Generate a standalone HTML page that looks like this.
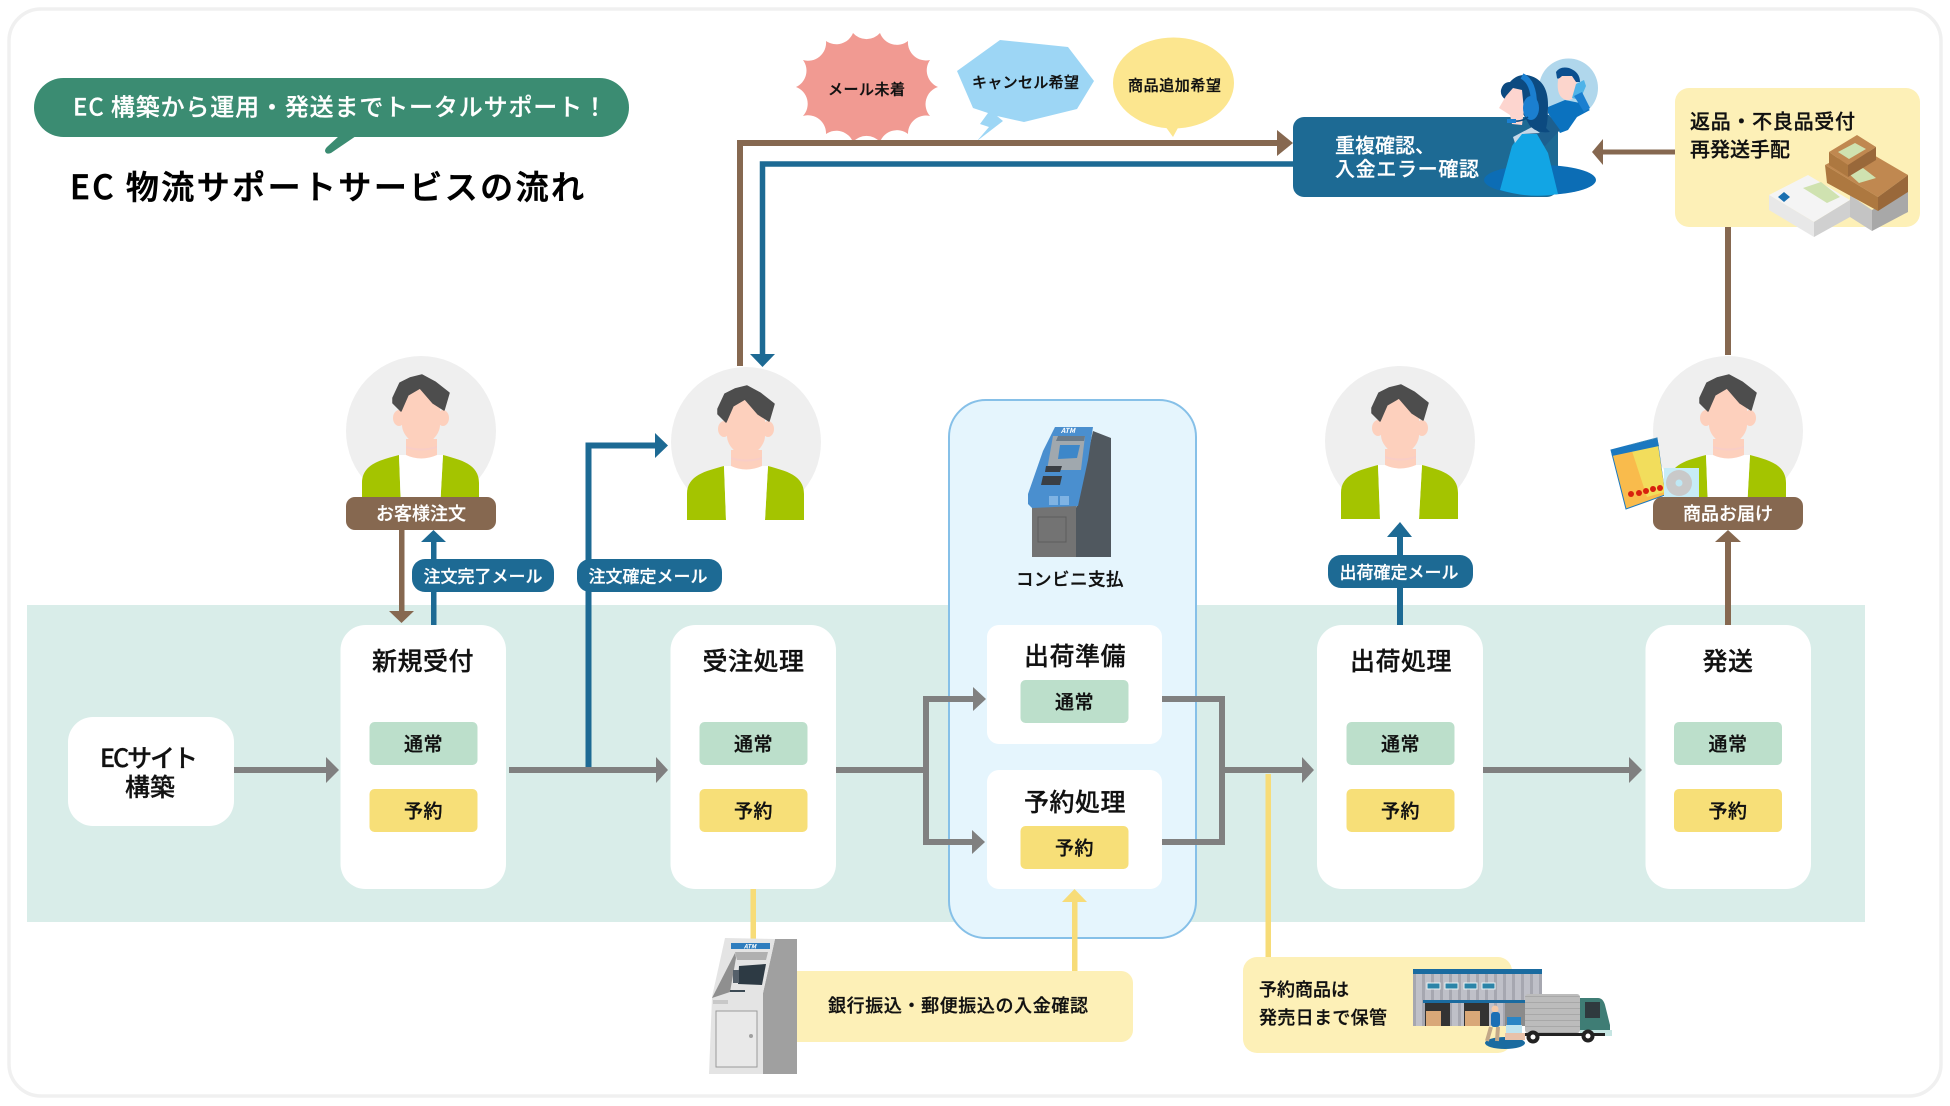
<!DOCTYPE html>
<html lang="ja"><head><meta charset="utf-8"><title>EC 物流サポートサービスの流れ</title>
<style>
html,body{margin:0;padding:0;background:#fff;width:1950px;height:1106px;overflow:hidden}
svg{display:block}
text{font-family:"Noto Sans CJK JP","Liberation Sans",sans-serif;fill:#111;stroke:#111;stroke-width:.3px;dominant-baseline:central;font-weight:500;transform:translateY(1px)}
.w{fill:#fff;stroke:#fff;stroke-width:.2px}
.m{text-anchor:middle}
.title{font-size:25px;text-anchor:middle;letter-spacing:.5px}
.tag{font-size:19px;text-anchor:middle;letter-spacing:.5px}
.pill{font-size:17px;fill:#fff;stroke:#fff;stroke-width:.2px;text-anchor:middle}
.lab{font-size:18px;fill:#fff;stroke:#fff;stroke-width:.2px;text-anchor:middle}
</style></head><body>
<svg width="1950" height="1106" viewBox="0 0 1950 1106" xmlns="http://www.w3.org/2000/svg">
<defs>
<pattern id="wall" width="9" height="10" patternUnits="userSpaceOnUse"><rect width="9" height="10" fill="#bfc0c8"/><rect width="3" height="10" fill="#a6a7b0"/></pattern>
<pattern id="tr" width="10" height="6" patternUnits="userSpaceOnUse"><rect width="10" height="6" fill="#bcbcbc"/><rect width="10" height="1" fill="#a8a8a8"/></pattern>
<g id="person">
<circle cx="0" cy="0" r="75" fill="#efefef"/>
<path d="M-22 24 C-40 29 -59 33 -59 52 L-59 78 L-20 78 Z" fill="#a4c400"/>
<path d="M22 24 C40 29 58 33 58 52 L58 78 L19 78 Z" fill="#a4c400"/>
<path d="M-22 24 L22 24 L19 78 L-20 78 Z" fill="#fff"/>
<ellipse cx="-22" cy="-13" rx="6" ry="8" fill="#fdd0bd"/>
<ellipse cx="22" cy="-13" rx="6" ry="8" fill="#fdd0bd"/>
<path d="M-15 8 L-15 24 Q0 31 16 24 L16 8 Z" fill="#fdd0bd"/>
<path d="M-15 15 Q0 20 16 15 L16 17 Q0 22 -15 17 Z" fill="#f9cdc6"/>
<path d="M-19 -25 C-19 -40 -10 -46 0 -46 C11 -46 19 -38 19 -25 L19 -6 C19 4 8 14 0 14 C-8 14 -19 4 -19 -6 Z" fill="#fdd0bd"/>
<path d="M-28 -33 L-21 -48 L-11 -53 L1 -56 L14 -49 L28 -38 L23 -21 L12 -28 L-1 -43 L-13 -36 L-20 -20 L-28 -28 Z" fill="#4d4d4d" stroke="#4d4d4d" stroke-width="1.5" stroke-linejoin="round"/>
</g>
</defs>

<rect x="9" y="9" width="1932" height="1087" rx="32" fill="#fff" stroke="#f0f0f0" stroke-width="3.5"/>

<!-- band -->
<rect x="27" y="605" width="1838" height="317" fill="#d9ede9"/>
<!-- container -->
<rect x="949" y="400" width="247" height="538" rx="37" fill="#e5f5fd" stroke="#86c0e8" stroke-width="2"/>

<!-- heading -->
<rect x="34" y="78" width="595" height="59" rx="29.5" fill="#3b8c72"/>
<path d="M339 136 L356 136 L331 153 Q326 155 325 151 Q325 149 327 147 Z" fill="#3b8c72"/>
<text class="w" x="73" y="104" font-size="24" textLength="534">EC 構築から運用・発送までトータルサポート！</text>
<text x="70" y="184" font-size="33" textLength="514" style="fill:#000;stroke:#000;stroke-width:.7px">EC 物流サポートサービスの流れ</text>

<!-- speech shapes -->
<path d="M853 33 A18 18 0 0 0 880 33 A18 18 0 0 0 908 41 A18 18 0 0 0 930 60 A18 18 0 0 0 938 87 A18 18 0 0 0 930 116 A18 18 0 0 0 908 134 A18 18 0 0 0 880 142 A18 18 0 0 0 853 142 A18 18 0 0 0 826 134 A18 18 0 0 0 803 116 A18 18 0 0 0 796 87 A18 18 0 0 0 803 60 A18 18 0 0 0 826 41 A18 18 0 0 0 853 33 Z" fill="#f19a92"/>
<text x="828" y="88" font-size="15" textLength="77">メール未着</text>
<polygon points="1000,40 1068,47 1094,81 1077,109 1024,122 997,116 1003,121 977,141 989,127 980,124 988,113 973,108 957,71" fill="#9dd6f5"/>
<text x="972" y="81" font-size="15" textLength="107">キャンセル希望</text>
<ellipse cx="1173.5" cy="83" rx="60.5" ry="45.5" fill="#fce68f"/>
<polygon points="1165,126 1179,126 1173,137" fill="#fce68f"/>
<text x="1128" y="84" font-size="15" textLength="93">商品追加希望</text>

<!-- top connectors -->
<path d="M740 366 L740 143 L1280 143" fill="none" stroke="#866850" stroke-width="6"/>
<polygon points="1277,130 1293,143 1277,156" fill="#866850"/>
<path d="M1300 164 L762.500 164 L762.500 356" fill="none" stroke="#1d6a94" stroke-width="5.500"/>
<polygon points="750,354 775,354 762.500,367" fill="#1d6a94"/>

<!-- blue box & operator -->
<rect x="1293" y="117" width="265" height="80" rx="11" fill="#1d6a94"/>
<text class="w" x="1335" y="143" font-size="20">重複確認、</text>
<text class="w" x="1335" y="166.500" font-size="20" textLength="144">入金エラー確認</text>
<ellipse cx="1540" cy="180" rx="56" ry="15" fill="#0c6db5"/>
<circle cx="1568.500" cy="88" r="29.500" fill="#b0d7ec"/>
<path d="M1548 107 L1565 100 L1580 103 L1590 110 L1577 117 L1568 130 L1560 133 L1548 113 Z" fill="#0b72bf"/>
<path d="M1558 80 Q1556 97 1566 100 Q1576 101 1577 88 L1576 74 L1560 72 Z" fill="#fcd5cc"/>
<path d="M1556 72 Q1560 66 1569 68 Q1580 72 1580 82 L1576 82 L1572 76 L1562 76 Q1558 80 1557 78 Z" fill="#0b4f8f"/>
<path d="M1576 84 L1584 80 L1586 86 L1580 100 L1572 98 Z" fill="#4fb3e8"/>
<path d="M1582 92 L1590 108 L1584 112 L1574 96 Z" fill="#1b7fd0"/>
<path d="M1530 112 L1549 115 L1560 130 L1545 146 L1530 135 Z" fill="#1d5f8e"/>
<path d="M1500 190 L1512 146 L1520 134 L1537 134 L1548 153 L1558 194 Q1530 199 1500 190 Z" fill="#12a5e4"/>
<path d="M1513 137 L1532 127 L1540 133 L1522 134 L1515 143 Z" fill="#c5d8e8"/>
<path d="M1501 90 Q1503 82 1510 82 Q1517 74 1527 75 Q1548 79 1548 105 Q1548 122 1546 128 L1550 132 Q1538 134 1530 126 L1515 100 L1506 100 Q1500 96 1501 90 Z" fill="#0c4a80"/>
<path d="M1499 108 L1506 96 L1513 88 L1522 90 L1524 110 L1522 125 L1512 124 L1510 115 Z" fill="#fdd5cf"/>
<path d="M1522 76 Q1534 82 1534 105" fill="none" stroke="#1b7fd0" stroke-width="6"/>
<ellipse cx="1531" cy="108" rx="8" ry="12" fill="#1b7fd0"/>
<path d="M1512 121 Q1522 122 1528 117" fill="none" stroke="#0c4a80" stroke-width="1.500"/>
<rect x="1507" y="119" width="9" height="4" fill="#1b7fd0"/>

<!-- returns box -->
<rect x="1675" y="88" width="245" height="139" rx="14" fill="#fdf0b7"/>
<text x="1690" y="119" font-size="20" textLength="165">返品・不良品受付</text>
<text x="1690" y="147" font-size="20">再発送手配</text>
<rect x="1603" y="149.500" width="72" height="5" fill="#866850"/>
<polygon points="1603,139 1592,152 1603,165" fill="#866850"/>
<rect x="1725" y="227" width="6" height="128" fill="#866850"/>
<!-- boxes -->
<polygon points="1850,195 1872,210 1872,231 1850,217" fill="#c4c4c4"/>
<polygon points="1872,210 1908,190 1908,212 1872,231" fill="#a8a8a8"/>
<polygon points="1825,165 1860,147 1908,175 1878,197" fill="#c08850"/>
<polygon points="1825,165 1878,197 1878,211 1827,183" fill="#ad7840"/>
<polygon points="1878,197 1908,175 1908,192 1878,211" fill="#99683a"/>
<polygon points="1848,173 1863,168 1876,178 1859,183" fill="#cfe2b0"/>
<polygon points="1829,152 1857,135 1876,147 1848,165" fill="#c08850"/>
<polygon points="1829,152 1848,165 1848,177 1829,165" fill="#ad7840"/>
<polygon points="1848,165 1876,147 1876,160 1848,177" fill="#99683a"/>
<polygon points="1838,152 1855,143 1866,149 1849,159" fill="#cfe2b0"/>
<polygon points="1769,195 1808,175 1850,200 1814,222" fill="#f4f4f4"/>
<polygon points="1769,195 1814,222 1814,237 1769,210" fill="#e8e8e8"/>
<polygon points="1814,222 1850,200 1850,217 1814,237" fill="#d0d0d0"/>
<polygon points="1803,188 1821,182 1840,197 1827,203" fill="#cfe2b0"/>
<polygon points="1778,197 1784,192 1790,197 1784,202" fill="#1a6fb0"/>

<!-- persons -->
<use href="#person" x="421" y="431"/>
<use href="#person" x="746" y="442"/>
<use href="#person" x="1400" y="441"/>
<use href="#person" x="1728" y="431"/>

<!-- product -->
<polygon points="1611,450 1657,438 1665,495 1626,509" fill="#f9bb4c" stroke="#1b78c0" stroke-width="1"/>
<polygon points="1630,445 1657,438 1665,492 1647,497" fill="#f2dd5c"/>
<polygon points="1611,450 1657,438 1659,446 1612,456" fill="#1b78c0"/>
<g fill="#d8200e"><circle cx="1631" cy="494" r="3"/><circle cx="1639" cy="493" r="3"/><circle cx="1646" cy="491" r="3"/><circle cx="1653" cy="489" r="3"/><circle cx="1660" cy="488" r="3"/></g>
<rect x="1664" y="468" width="35" height="32" fill="#c7ecf7"/>
<circle cx="1679" cy="483" r="13" fill="#c9c9c9"/><circle cx="1679" cy="483" r="3.500" fill="#bfe8f5"/>

<!-- horizontal flow -->
<g fill="#808080">
<rect x="234" y="767" width="92" height="6"/><polygon points="326,757 339,770 326,783"/>
<rect x="509" y="767" width="147" height="6"/><polygon points="656,757 668,770 656,783"/>
<rect x="836" y="767" width="92" height="6"/>
<rect x="1222" y="767" width="80" height="6"/><polygon points="1302,757 1314,770 1302,783"/>
<rect x="1483" y="767" width="147" height="6"/><polygon points="1629,757 1642,770 1629,783"/>
</g>
<path d="M973 699 L926 699 L926 842 L973 842" fill="none" stroke="#808080" stroke-width="6"/>
<polygon points="973,687 986,699 973,711" fill="#808080"/>
<polygon points="972,830 985,842 972,854" fill="#808080"/>
<path d="M1162 699 L1222 699 L1222 842 L1162 842" fill="none" stroke="#808080" stroke-width="6"/>

<!-- vertical connectors -->
<path d="M588.500 767 L588.500 445.500 L656 445.500" fill="none" stroke="#1d6a94" stroke-width="6"/>
<polygon points="655,433 668,445.500 655,458" fill="#1d6a94"/>
<rect x="399" y="530" width="5.500" height="82" fill="#866850"/>
<polygon points="389,611 414,611 401.500,623" fill="#866850"/>
<rect x="431" y="541" width="5.500" height="84" fill="#1d6a94"/>
<polygon points="421,542 446,542 433.500,530" fill="#1d6a94"/>
<rect x="1397" y="536" width="6" height="89" fill="#1d6a94"/>
<polygon points="1387,537 1412,537 1400,522" fill="#1d6a94"/>
<rect x="1725" y="541" width="6" height="84" fill="#866850"/>
<polygon points="1715,542 1741,542 1728,530" fill="#866850"/>
<rect x="750.500" y="889" width="5.500" height="50" fill="#f7dc78"/>
<rect x="1072" y="900" width="5.500" height="72" fill="#f7dc78"/>
<polygon points="1062,902 1087,902 1074.500,889" fill="#f7dc78"/>
<rect x="1265.500" y="774" width="5.500" height="184" fill="#f7dc78"/>

<!-- EC card -->
<rect x="68" y="717" width="166" height="109" rx="25" fill="#fff"/>
<text x="100" y="756" font-size="25" textLength="98">ECサイト</text>
<text class="m" x="150" y="785" font-size="25">構築</text>

<!-- stage cards -->
<rect x="340.500" y="625" width="165.500" height="264" rx="25" fill="#fff"/>
<text class="title" x="423" y="659">新規受付</text>
<rect x="369.500" y="722" width="108" height="43" rx="5" fill="#bcdfcb"/><text class="tag" x="423.500" y="742">通常</text>
<rect x="369.500" y="789" width="108" height="43" rx="5" fill="#f7df78"/><text class="tag" x="423.500" y="809">予約</text>

<rect x="670.500" y="625" width="165.500" height="264" rx="25" fill="#fff"/>
<text class="title" x="753.500" y="659">受注処理</text>
<rect x="699.500" y="722" width="108" height="43" rx="5" fill="#bcdfcb"/><text class="tag" x="753.500" y="742">通常</text>
<rect x="699.500" y="789" width="108" height="43" rx="5" fill="#f7df78"/><text class="tag" x="753.500" y="809">予約</text>

<rect x="1317" y="625" width="166" height="264" rx="25" fill="#fff"/>
<text class="title" x="1401" y="659">出荷処理</text>
<rect x="1346.500" y="722" width="108" height="43" rx="5" fill="#bcdfcb"/><text class="tag" x="1400.500" y="742">通常</text>
<rect x="1346.500" y="789" width="108" height="43" rx="5" fill="#f7df78"/><text class="tag" x="1400.500" y="809">予約</text>

<rect x="1645.500" y="625" width="165.500" height="264" rx="25" fill="#fff"/>
<text class="title" x="1728" y="659">発送</text>
<rect x="1674" y="722" width="108" height="43" rx="5" fill="#bcdfcb"/><text class="tag" x="1728" y="742">通常</text>
<rect x="1674" y="789" width="108" height="43" rx="5" fill="#f7df78"/><text class="tag" x="1728" y="809">予約</text>

<!-- container cards -->
<rect x="987" y="625" width="175" height="119" rx="12" fill="#fff"/>
<text class="title" x="1075" y="654">出荷準備</text>
<rect x="1020.500" y="680" width="108" height="43" rx="5" fill="#bcdfcb"/><text class="tag" x="1074.500" y="700">通常</text>
<rect x="987" y="770" width="175" height="119" rx="12" fill="#fff"/>
<text class="title" x="1075" y="800">予約処理</text>
<rect x="1020.500" y="826" width="108" height="43" rx="5" fill="#f7df78"/><text class="tag" x="1074.500" y="846">予約</text>

<!-- blue ATM -->
<polygon points="1093,431 1111,438 1111,557 1076,557 1076,508" fill="#50585f"/>
<rect x="1032" y="506" width="44" height="51" fill="#737373"/>
<rect x="1038" y="517" width="28" height="25" fill="none" stroke="#5c5c5c" stroke-width="1"/>
<polygon points="1055,427 1093,427 1088,460 1078,506 1032,508 1028,504 1028,494 1043,451" fill="#4a8fcf"/>
<polygon points="1053,436 1085,436 1081,470 1047,470" fill="#a0a8ae"/>
<polygon points="1058,436 1085,436 1084,441 1056,441" fill="#6a7a88"/>
<polygon points="1060,445 1080,445 1077,458 1058,459" fill="#3d87c9"/>
<polygon points="1046,466 1062,466 1060,472 1045,472" fill="#3a3f44"/>
<polygon points="1043,476 1062,476 1060,485 1041,485" fill="#3a3f44"/>
<rect x="1049" y="496" width="9" height="9" fill="#7fb3e3"/><rect x="1060" y="496" width="9" height="9" fill="#7fb3e3"/>
<text class="w m" x="1068" y="430" font-size="7" style="font-style:italic;font-weight:700;stroke-width:0">ATM</text>
<text class="m" x="1070" y="578" font-size="17.500" style="letter-spacing:.5px">コンビニ支払</text>

<!-- bank row -->
<rect x="780" y="971" width="353" height="71" rx="12" fill="#fdf0b7"/>
<text x="828" y="1004" font-size="18" textLength="260">銀行振込・郵便振込の入金確認</text>
<polygon points="775,939 797,939 797,1074 763,1074 763,993" fill="#a0a0a0"/>
<polygon points="725,938 775,939 763,993 763,1074 709,1074 712,997" fill="#e4e4e4"/>
<rect x="731" y="943" width="39" height="6" fill="#2f7dbe"/>
<text class="w m" x="750" y="945" font-size="6" style="font-style:italic;font-weight:700;stroke-width:0">ATM</text>
<polygon points="735,952 768,952 766,960 737,960" fill="#b0b0b0"/>
<polygon points="735,953 712,998 730,992 736,958" fill="#8f8f8f"/>
<polygon points="739,966 766,964 762,985 738,984" fill="#2d3a44"/>
<rect x="733" y="970" width="6" height="13" fill="#55606a"/>
<rect x="730" y="990" width="15" height="2" fill="#3c4a54"/>
<rect x="713" y="1000" width="15" height="4" fill="#c8c8c8"/>
<rect x="716" y="1011" width="41" height="56" fill="#e9e9e9" stroke="#9a9a9a" stroke-width="1"/>
<circle cx="751" cy="1036" r="2" fill="#a0a0a0"/>

<!-- warehouse row -->
<rect x="1243" y="957" width="269" height="96" rx="14" fill="#fdf0b7"/>
<text x="1259" y="988" font-size="18">予約商品は</text>
<text x="1259" y="1016" font-size="18" textLength="128">発売日まで保管</text>
<rect x="1413" y="970" width="129" height="56" fill="url(#wall)"/>
<rect x="1413" y="969" width="129" height="5" fill="#1a6ba0"/>
<g fill="#2b84a8" stroke="#e8f2f4" stroke-width="1"><rect x="1427" y="983" width="13" height="6"/><rect x="1445" y="983" width="13" height="6"/><rect x="1464" y="983" width="13" height="6"/><rect x="1482" y="983" width="13" height="6"/></g>
<rect x="1423" y="1000" width="119" height="3" fill="#1a6ba0"/>
<rect x="1425" y="1003" width="25" height="23" fill="#333"/>
<rect x="1464" y="1003" width="25" height="23" fill="#333"/>
<rect x="1426" y="1011" width="15" height="15" fill="#d9a878"/>
<rect x="1465" y="1011" width="15" height="15" fill="#d9a878"/>
<rect x="1505" y="1003" width="22" height="23" fill="#8b8b8b"/>
<rect x="1525" y="994" width="55" height="39" rx="3" fill="url(#tr)"/>
<path d="M1580 998 L1598 998 Q1603 998 1605 1005 L1610 1025 L1610 1033 L1580 1033 Z" fill="#3f7d75"/>
<rect x="1585" y="1002" width="15" height="16" fill="#2f3a3e"/>
<rect x="1580" y="1030" width="32" height="6" fill="#c5e5e2"/>
<rect x="1525" y="1033" width="80" height="3" fill="#222"/>
<circle cx="1533" cy="1037" r="6.500" fill="#222"/><circle cx="1533" cy="1037" r="2.500" fill="#fff"/>
<circle cx="1588" cy="1036" r="6.500" fill="#222"/><circle cx="1588" cy="1036" r="2.500" fill="#fff"/>
<ellipse cx="1505" cy="1043" rx="20" ry="6" fill="#1a6ba0"/>
<circle cx="1495" cy="1009" r="3.500" fill="#f3c9a8"/>
<rect x="1491" y="1012" width="9" height="15" rx="3" fill="#1b6fb5"/>
<path d="M1491 1027 L1487 1041 M1498 1027 L1497 1041" stroke="#c2a888" stroke-width="4"/>
<rect x="1507" y="1017" width="14" height="8" fill="#2a85c5"/>
<rect x="1506" y="1025" width="16" height="8" fill="#bfe3ee"/>
<rect x="1505" y="1033" width="20" height="7" fill="#e8c2aa"/>

<!-- labels & pills -->
<rect x="346" y="497" width="150" height="33" rx="9" fill="#866850"/>
<text class="lab" x="421" y="512">お客様注文</text>
<rect x="1653" y="497" width="150" height="33" rx="9" fill="#866850"/>
<text class="lab" x="1728" y="512">商品お届け</text>
<rect x="412" y="559" width="142" height="33" rx="13" fill="#1d6a94"/>
<text class="pill" x="483" y="574">注文完了メール</text>
<rect x="577" y="559" width="145" height="33" rx="13" fill="#1d6a94"/>
<text class="pill" x="648" y="574">注文確定メール</text>
<rect x="1328" y="555" width="145" height="33" rx="13" fill="#1d6a94"/>
<text class="pill" x="1399" y="570">出荷確定メール</text>
</svg>
</body></html>
